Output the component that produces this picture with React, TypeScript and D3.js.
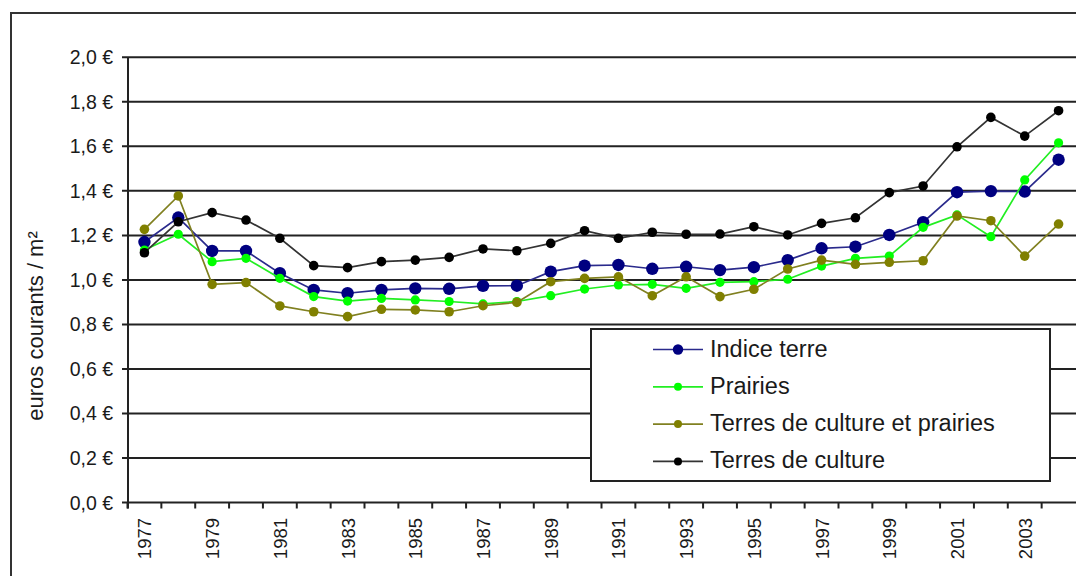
import { useEffect, useRef } from 'react'
import * as d3 from 'd3'

const years = d3.range(1977, 2005)

const indiceTerre = [
  1.17, 1.28, 1.13, 1.13, 1.03, 0.955, 0.94, 0.955, 0.962, 0.96,
  0.973, 0.974, 1.037, 1.064, 1.067, 1.05, 1.059, 1.044, 1.057, 1.089,
  1.142, 1.149, 1.202, 1.259, 1.394, 1.399, 1.397, 1.54,
]
const prairies = [
  1.134, 1.205, 1.082, 1.097, 1.007, 0.925, 0.905, 0.917, 0.91, 0.903,
  0.892, 0.903, 0.929, 0.959, 0.977, 0.98, 0.962, 0.989, 0.992, 1.003,
  1.062, 1.097, 1.107, 1.236, 1.292, 1.194, 1.449, 1.616,
]
const culturePrairies = [
  1.227, 1.377, 0.98, 0.988, 0.883, 0.857, 0.835, 0.868, 0.865, 0.857,
  0.884, 0.899, 0.992, 1.007, 1.014, 0.929, 1.014, 0.925, 0.958, 1.049,
  1.089, 1.07, 1.079, 1.086, 1.287, 1.266, 1.107, 1.251,
]
const culture = [
  1.122, 1.261, 1.302, 1.269, 1.187, 1.064, 1.055, 1.082, 1.089, 1.101,
  1.139, 1.131, 1.164, 1.221, 1.187, 1.214, 1.205, 1.206, 1.239, 1.202,
  1.254, 1.279, 1.392, 1.422, 1.598, 1.73, 1.646, 1.76,
]

const yTicks = [0, 0.2, 0.4, 0.6, 0.8, 1.0, 1.2, 1.4, 1.6, 1.8, 2.0]
const xLabelYears = years.filter((y) => (y - 1977) % 2 === 0)

const series = [
  { name: 'Indice terre', values: indiceTerre, line: '#2a2a8c', dot: '#000080', r: 6.2, lr: 5.2 },
  { name: 'Prairies', values: prairies, line: '#22ee22', dot: '#00ff00', r: 4.6, lr: 4 },
  { name: 'Terres de culture et prairies', values: culturePrairies, line: '#808020', dot: '#808000', r: 4.8, lr: 4 },
  { name: 'Terres de culture', values: culture, line: '#333333', dot: '#000000', r: 4.8, lr: 4 },
]

const FONT = '"Liberation Sans", Arial, sans-serif'

export default function App() {
  const ref = useRef<SVGSVGElement>(null)

  useEffect(() => {
    if (!ref.current) return
    const W = 1076
    const H = 576
    const axisX = 128
    const axisY = 502.5

    d3.select(ref.current).selectAll('*').remove()
    const svg = d3.select(ref.current).attr('width', W).attr('height', H).style('font-family', FONT)

    const x = d3.scaleBand<number>().domain(years).range([127.5, 1075.5])
    const cx = (yr: number) => x(yr)! + x.bandwidth() / 2
    const y = d3.scaleLinear().domain([0, 2]).range([axisY, 57.3])

    // outer frame
    svg.append('rect')
      .attr('x', 11).attr('y', 13).attr('width', 1100).attr('height', 600)
      .attr('fill', 'none').attr('stroke', '#333').attr('stroke-width', 2)

    // grid lines + y ticks
    const g = svg.append('g')
    g.selectAll('.grid')
      .data(yTicks)
      .join('line')
      .attr('x1', axisX - 6).attr('x2', W)
      .attr('y1', (d) => y(d)).attr('y2', (d) => y(d))
      .attr('stroke', '#222').attr('stroke-width', 2)

    g.selectAll('.ylab')
      .data(yTicks)
      .join('text')
      .attr('x', 113)
      .attr('y', (d) => y(d))
      .attr('dy', '0.36em')
      .attr('text-anchor', 'end')
      .attr('font-size', 19.5)
      .attr('fill', '#1a1a1a')
      .text((d) => `${d.toFixed(1).replace('.', ',')} €`)

    // y axis line
    svg.append('line')
      .attr('x1', axisX).attr('x2', axisX).attr('y1', y(2)).attr('y2', axisY + 6)
      .attr('stroke', '#222').attr('stroke-width', 2)

    // x ticks at band edges
    const edges = years.map((yr) => x(yr)!)
    svg.selectAll('.xtick')
      .data(edges)
      .join('line')
      .attr('x1', (d) => d).attr('x2', (d) => d)
      .attr('y1', axisY).attr('y2', axisY + 6)
      .attr('stroke', '#222').attr('stroke-width', 2)

    svg.selectAll('.xlab')
      .data(xLabelYears)
      .join('text')
      .attr('transform', (d) => `translate(${cx(d) + 7},518) rotate(-90)`)
      .attr('text-anchor', 'end')
      .attr('font-size', 18.5)
      .attr('fill', '#1a1a1a')
      .text((d) => d)

    // y title
    svg.append('text')
      .attr('transform', 'translate(43,326) rotate(-90)')
      .attr('text-anchor', 'middle')
      .attr('font-size', 22)
      .attr('fill', '#1a1a1a')
      .text('euros courants / m²')

    // series
    const line = d3.line<number>().x((_, i) => cx(years[i])).y((d) => y(d))
    series.forEach((s) => {
      svg.append('path')
        .attr('d', line(s.values)!)
        .attr('fill', 'none')
        .attr('stroke', s.line)
        .attr('stroke-width', 1.7)
      svg.append('g')
        .selectAll('circle')
        .data(s.values)
        .join('circle')
        .attr('cx', (_, i) => cx(years[i]))
        .attr('cy', (d) => y(d))
        .attr('r', s.r)
        .attr('fill', s.dot)
    })

    // legend
    const lg = svg.append('g')
    lg.append('rect')
      .attr('x', 591).attr('y', 329).attr('width', 459).attr('height', 152)
      .attr('fill', '#fff').attr('stroke', '#222').attr('stroke-width', 2)
    const rows = lg.selectAll('.row')
      .data(series)
      .join('g')
      .attr('transform', (_, i) => `translate(0,${356.5 + i * 37.3})`)
    rows.append('line')
      .attr('x1', 653).attr('x2', 703).attr('y1', -7).attr('y2', -7)
      .attr('stroke', (d) => d.line).attr('stroke-width', 1.7)
    rows.append('circle')
      .attr('cx', 678).attr('cy', -7).attr('r', (d) => d.lr)
      .attr('fill', (d) => d.dot)
    rows.append('text')
      .attr('x', 710).attr('y', 0)
      .attr('font-size', 23.5)
      .attr('fill', '#1a1a1a')
      .text((d) => d.name)
  }, [])

  return (
    <svg
      ref={ref}
      style={{ position: 'absolute', left: 0, top: 0, display: 'block', background: '#fff' }}
    />
  )
}
